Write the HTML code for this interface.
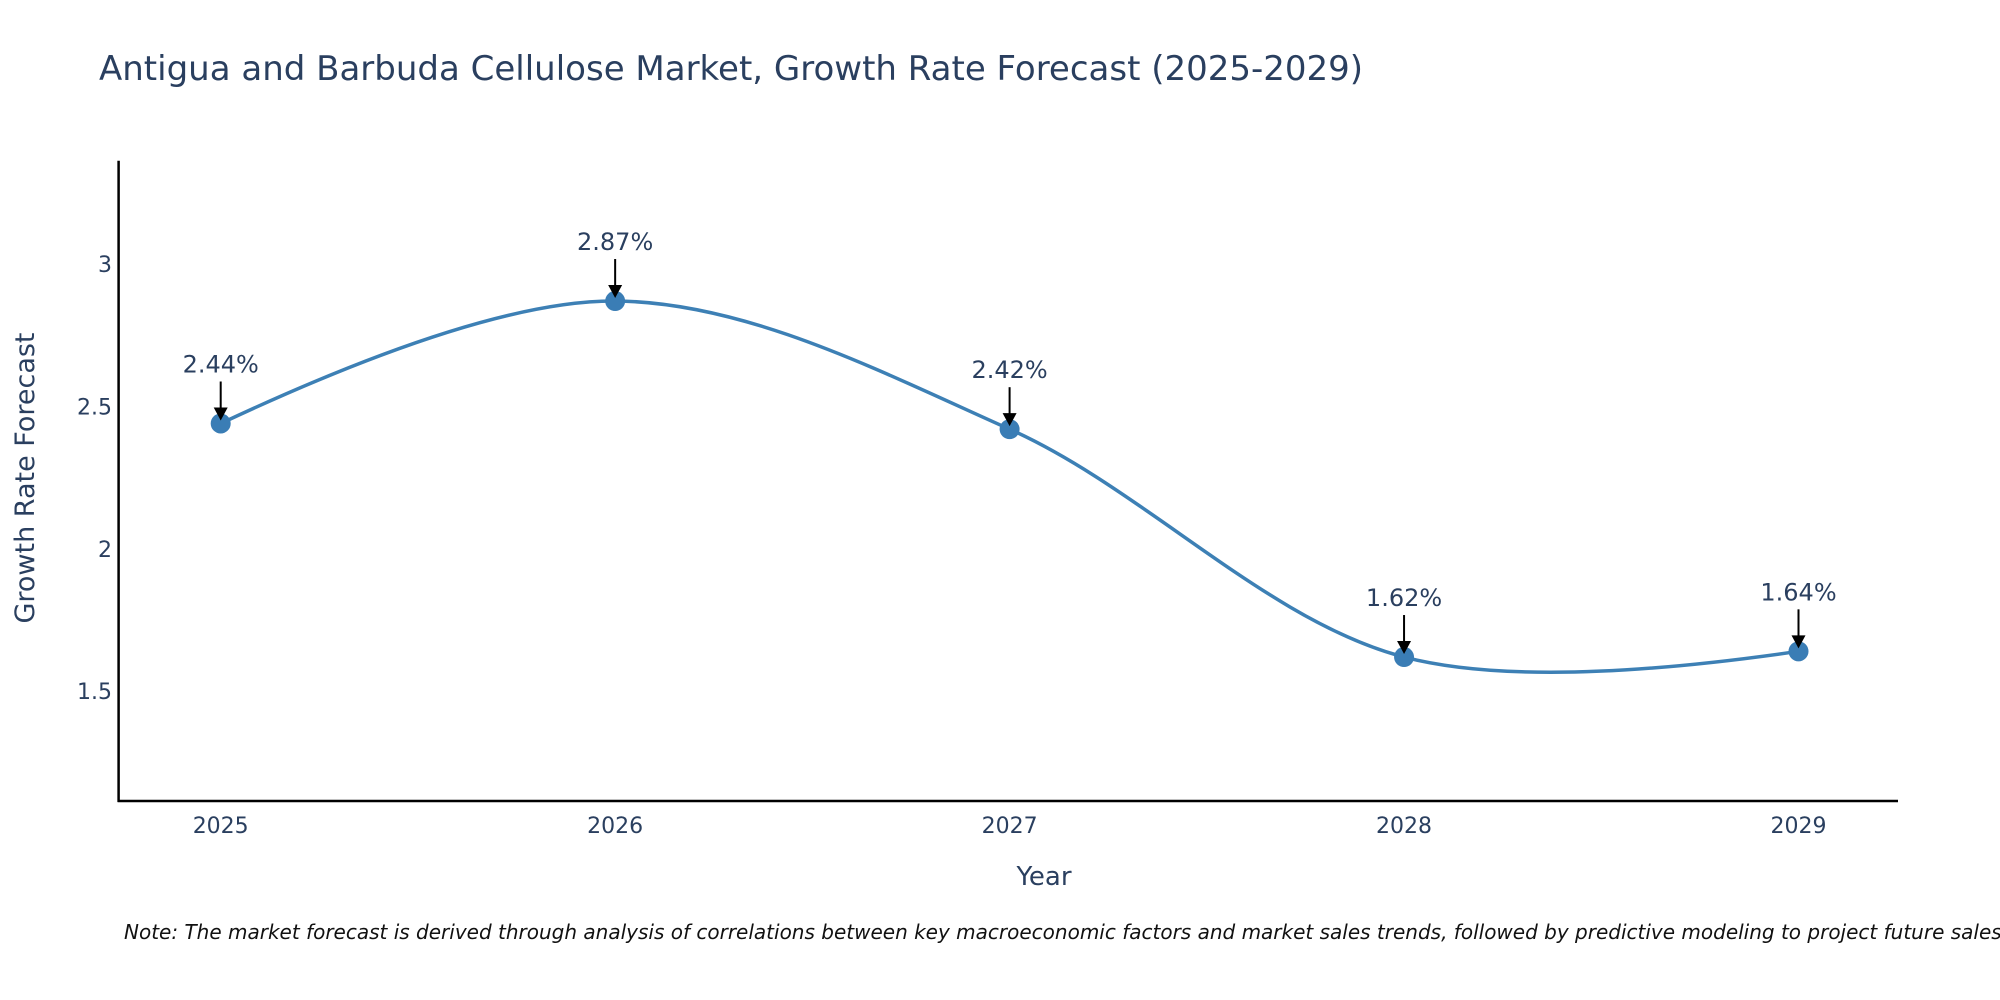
<!DOCTYPE html>
<html><head><meta charset="utf-8">
<style>
body{margin:0;background:#fff;}
svg{display:block;font-family:"DejaVu Sans","Liberation Sans",sans-serif;}
</style></head>
<body>
<svg id="chart" width="2000" height="1000" viewBox="0 0 2000 1000">
<text x="99" y="80" font-size="34" fill="#2a3f5f">Antigua and Barbuda Cellulose Market, Growth Rate Forecast (2025-2029)</text>
<g id="axes"></g>
<g id="series"></g>
<g id="annots"></g>
<text x="1044" y="885" font-size="26" fill="#2a3f5f" text-anchor="middle">Year</text>
<text x="0" y="0" font-size="27" fill="#2a3f5f" text-anchor="middle" transform="translate(34,478) rotate(-90)">Growth Rate Forecast</text>
<text x="124" y="939" font-size="20" font-style="italic" fill="#111">Note: The market forecast is derived through analysis of correlations between key macroeconomic factors and market sales trends, followed by predictive modeling to project future sales.</text>
</svg>
<script>
const years = [2025, 2026, 2027, 2028, 2029];
const growth = [2.44, 2.87, 2.42, 1.62, 1.64];
const labels = ["2.44%", "2.87%", "2.42%", "1.62%", "1.64%"];
const yTicks = [1.5, 2, 2.5, 3];

const NS = "http://www.w3.org/2000/svg";
const L = 118.6, R = 1898, T = 160.7, B = 801;
const xs = v => 220.7 + (v - 2025) * 394.45;
const ys = v => 264 - (v - 3) * 284.8;
function mk(tag, attrs, parent) {
  const e = document.createElementNS(NS, tag);
  for (const k in attrs) e.setAttribute(k, attrs[k]);
  parent.appendChild(e);
  return e;
}
const axes = document.getElementById("axes");
const yl = mk("line", {x1: L, y1: T, x2: L, y2: B + 1, stroke: "#000", "stroke-width": 2.5}, axes);


const xl = mk("line", {x1: L - 1, y1: B, x2: R, y2: B, stroke: "#000", "stroke-width": 2.5}, axes);


yTicks.forEach(t => {
  const tx = mk("text", {x: 112, y: ys(t) + 8, "font-size": 22, fill: "#2a3f5f", "text-anchor": "end"}, axes);
  tx.textContent = String(t);
  
  
});
years.forEach(y => {
  const tx = mk("text", {x: xs(y), y: 833, "font-size": 22, fill: "#2a3f5f", "text-anchor": "middle"}, axes);
  tx.textContent = String(y);
  
  
});

const pts = years.map((y, i) => [xs(y), ys(growth[i])]);
function tangent(p0, p1, p2, s) {
  const d1x = p0[0] - p1[0], d1y = p0[1] - p1[1], d2x = p2[0] - p1[0], d2y = p2[1] - p1[1];
  const d1a = Math.pow(d1x * d1x + d1y * d1y, 0.25), d2a = Math.pow(d2x * d2x + d2y * d2y, 0.25);
  const nx = (d2a * d2a * d1x - d1a * d1a * d2x) * s, ny = (d2a * d2a * d1y - d1a * d1a * d2y) * s;
  const den1 = 3 * d2a * (d1a + d2a), den2 = 3 * d1a * (d1a + d2a);
  return [[p1[0] + nx / den1, p1[1] + ny / den1], [p1[0] - nx / den2, p1[1] - ny / den2]];
}
const tg = [];
for (let i = 1; i < pts.length - 1; i++) tg.push(tangent(pts[i - 1], pts[i], pts[i + 1], 1));
let d = "M" + pts[0] + "Q" + tg[0][0] + " " + pts[1];
for (let i = 2; i < pts.length - 1; i++) d += "C" + tg[i - 2][1] + " " + tg[i - 1][0] + " " + pts[i];
d += "Q" + tg[pts.length - 3][1] + " " + pts[pts.length - 1];
const series = document.getElementById("series");
const line = mk("path", {d: d, fill: "none", stroke: "#3d80b5", "stroke-width": 3.5}, series);


pts.forEach(p => {
  const c = mk("circle", {cx: p[0], cy: p[1], r: 10, fill: "#3a7db5"}, series);
  
  
});
const an = document.getElementById("annots");
pts.forEach((p, i) => {
  const g = mk("g", {}, an);
  
  
  mk("line", {x1: p[0], y1: p[1] - 42, x2: p[0], y2: p[1] - 14, stroke: "#000", "stroke-width": 2}, g);
  mk("path", {d: `M${p[0] - 7},${p[1] - 16} L${p[0] + 7},${p[1] - 16} L${p[0]},${p[1] - 3} Z`, fill: "#000"}, g);
  const t = mk("text", {x: p[0], y: p[1] - 51, "font-size": 24, fill: "#2a3f5f", "text-anchor": "middle"}, g);
  t.textContent = labels[i];
});
</script>
</body></html>
